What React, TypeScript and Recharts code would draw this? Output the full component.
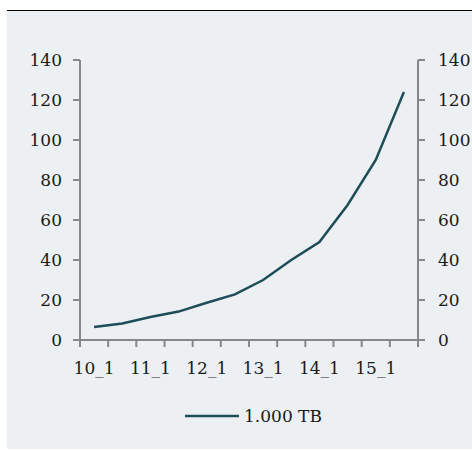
import { LineChart, Line, XAxis, YAxis, Legend } from 'recharts';

const categories = ['10_1', '10_2', '11_1', '11_2', '12_1', '12_2', '13_1', '13_2', '14_1', '14_2', '15_1', '15_2'];
const values = [6.5, 8.3, 11.5, 14.2, 18.6, 22.8, 30, 40, 49, 67.5, 90, 124];
const yTicks = [0, 20, 40, 60, 80, 100, 120, 140];
const seriesName = '1.000 TB';

// category boundaries for tick marks, centres of every other category for labels
const boundaryTicks = categories.map((_, i) => i).concat(categories.length);
const labelTicks = categories.map((_, i) => i + 0.5).filter((_, i) => i % 2 === 0);

const data = categories.map((c, i) => ({ x: i + 0.5, label: c, value: values[i] }));

const FONT = '"DejaVu Serif", serif';
const AXIS = '#878787';
const LINE = '#1E4D57';
const TEXT = '#1a1a1a';
const TICK = 7;
const axisLine = { stroke: AXIS, strokeWidth: 2 };

// tick mark + label drawn together (mark offset back towards the axis)
function LeftTick({ x, y, payload }: any) {
  return (
    <g>
      <line x1={x + 11} x2={x + 11 + TICK} y1={y} y2={y} stroke={AXIS} strokeWidth={2} />
      <text x={x} y={y} dy="0.355em" textAnchor="end" fill={TEXT} fontSize={17} fontFamily={FONT}>{payload.value}</text>
    </g>
  );
}

function RightTick({ x, y, payload }: any) {
  return (
    <g>
      <line x1={x - 13 - TICK} x2={x - 13} y1={y} y2={y} stroke={AXIS} strokeWidth={2} />
      <text x={x} y={y} dy="0.355em" textAnchor="start" fill={TEXT} fontSize={17} fontFamily={FONT}>{payload.value}</text>
    </g>
  );
}

function BottomTick({ x, y }: any) {
  return <line x1={x} x2={x} y1={y - TICK} y2={y} stroke={AXIS} strokeWidth={2} />;
}

function LegendContent() {
  return (
    <div style={{ display: 'flex', justifyContent: 'center', alignItems: 'center', paddingLeft: 28, fontFamily: FONT, fontSize: 17, color: TEXT }}>
      <svg width={54} height={6} style={{ marginRight: 5 }}>
        <line x1={0} y1={3} x2={54} y2={3} stroke={LINE} strokeWidth={2.5} />
      </svg>
      <span>{seriesName}</span>
    </div>
  );
}

export default function App() {
  return (
    <>
      <style>{'html,body{overflow:hidden}'}</style>
      <div style={{ position: 'absolute', left: 7, top: 10, width: 465, height: 438, background: '#ECF0F3', borderTop: '1px solid #000' }}>
        <LineChart width={465} height={437} data={data} margin={{ top: 49, right: 0, bottom: 18, left: 0 }}>
          <XAxis
            xAxisId="a"
            dataKey="x"
            type="number"
            domain={[0, categories.length]}
            ticks={boundaryTicks}
            interval={0}
            tick={<BottomTick />}
            height={6}
            tickSize={TICK}
            tickMargin={0}
            axisLine={axisLine}
            tickLine={false}
          />
          <XAxis
            xAxisId="b"
            dataKey="x"
            type="number"
            domain={[0, categories.length]}
            ticks={labelTicks}
            tickFormatter={(v: number) => categories[Math.floor(v)]}
            interval={0}
            height={60}
            tickSize={0}
            tickMargin={16}
            axisLine={false}
            tickLine={false}
            tick={{ fill: TEXT, fontSize: 17, fontFamily: FONT }}
          />
          <YAxis
            yAxisId="left"
            domain={[0, 140]}
            ticks={yTicks}
            interval={0}
            width={73}
            tickSize={TICK}
            tickMargin={11}
            axisLine={axisLine}
            tickLine={false}
            tick={<LeftTick />}
          />
          <YAxis
            yAxisId="right"
            orientation="right"
            domain={[0, 140]}
            ticks={yTicks}
            interval={0}
            width={54}
            tickSize={TICK}
            tickMargin={13}
            axisLine={axisLine}
            tickLine={false}
            tick={<RightTick />}
          />
          <Legend verticalAlign="bottom" height={24} content={<LegendContent />} />
          {/* invisible copy so the tick axis and right axis get a scale */}
          <Line xAxisId="a" yAxisId="right" dataKey="value" stroke="none" dot={false} legendType="none" isAnimationActive={false} />
          <Line
            xAxisId="b"
            yAxisId="left"
            type="linear"
            dataKey="value"
            name={seriesName}
            stroke={LINE}
            strokeWidth={2.5}
            dot={false}
            isAnimationActive={false}
          />
        </LineChart>
      </div>
    </>
  );
}
